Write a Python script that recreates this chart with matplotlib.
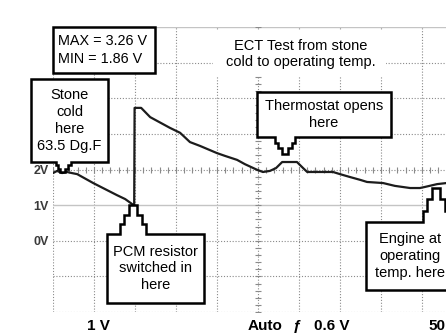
import matplotlib
matplotlib.use("Agg")
import matplotlib.pyplot as plt
from matplotlib.patches import Polygon, Rectangle
import numpy as np

# ECT sensor trace: time in screen divisions, signal in volts (1 V/div)
time_div = [0.00, 0.10, 0.22, 0.34, 0.46, 0.59, 0.98, 1.27, 1.56, 1.76,
            1.93, 1.98, 1.99, 2.15, 2.37, 2.85, 3.10, 3.34, 3.59, 4.00,
            4.20, 4.49, 4.68, 4.98, 5.12, 5.29, 5.44, 5.59, 5.78, 5.95,
            6.10, 6.20, 6.51, 6.83, 7.00, 7.24, 7.49, 7.66, 8.05, 8.34,
            8.71, 8.95, 9.07, 9.37, 9.60]
ect_volts = [1.90, 1.96, 1.90, 1.93, 1.90, 1.87, 1.62, 1.45, 1.28, 1.17,
             1.03, 0.95, 3.73, 3.73, 3.47, 3.17, 3.03, 2.77, 2.66, 2.46,
             2.38, 2.27, 2.15, 1.99, 1.93, 1.96, 2.04, 2.21, 2.21, 2.21,
             2.04, 1.93, 1.93, 1.93, 1.87, 1.79, 1.71, 1.65, 1.62, 1.54,
             1.48, 1.48, 1.51, 1.59, 1.62]

volt_ticks = [2, 1, 0]
volt_tick_labels = ["2V", "1V", "0V"]
readout_text = "MAX = 3.26 V\nMIN = 1.86 V"
title_text = "ECT Test from stone\ncold to operating temp."
stone_text = "Stone\ncold\nhere\n63.5 Dg.F"
pcm_text = "PCM resistor\nswitched in\nhere"
thermo_text = "Thermostat opens\nhere"
engine_text = "Engine at\noperating\ntemp. here"
status_labels = ["1 V", "Auto", "ƒ", "0.6 V", "50"]

# indices of trace samples the callouts point at
stone_idx, pcm_idx, thermo_idx, engine_idx = 2, 11, 27, 43

W, H = 446, 336
fig = plt.figure(figsize=(W / 100, H / 100), dpi=100)
fig.patch.set_facecolor("white")

# scope graticule: 10 x 8 divisions
ax = fig.add_axes([53 / W, 24 / H, 410 / W, 285 / H])
ax.set_xlim(0, 10)
ax.set_ylim(-2, 6)
for s in ax.spines.values():
    s.set_visible(False)
grid_col = "#8a8a8a"
dot = dict(color=grid_col, lw=0.8, ls=(0, (1, 1.6)), zorder=1)
for x in range(0, 11):
    ax.axvline(x, **dot)
for y in range(-2, 7):
    if y in (1, 6):
        ax.axhline(y, color="#c4c4c4", lw=1.0, zorder=1)
    else:
        ax.axhline(y, **dot)
minor_x = np.arange(0, 10.01, 0.2)
ax.plot(minor_x, np.full_like(minor_x, 2.0), ls="none", marker="|",
        ms=4.5, mew=0.8, color=grid_col, zorder=1)
minor_y = np.arange(-2, 6.01, 0.2)
ax.plot(np.full_like(minor_y, 5.0), minor_y, ls="none", marker="_",
        ms=4.5, mew=0.8, color=grid_col, zorder=1)

ax.plot(time_div, ect_volts, color="#1c1c1c", lw=1.6, zorder=3,
        solid_joinstyle="round", solid_capstyle="round")

ax.set_xticks([])
ax.set_yticks(volt_ticks, volt_tick_labels)
ax.tick_params(axis="y", length=0, pad=3, labelsize=9, labelcolor="#3a3a3a")
for lbl in ax.get_yticklabels():
    lbl.set_fontweight("bold")
    lbl.set_family("Liberation Sans")

# overlay in pixel units (y down) for the annotation boxes
ov = fig.add_axes([0, 0, 1, 1], zorder=5)
ov.set_xlim(0, W)
ov.set_ylim(H, 0)
ov.axis("off")
ov.patch.set_alpha(0)


def to_px(i, dx=0.0, dy=0.0):
    px, py = ax.transData.transform((time_div[i], ect_volts[i]))
    return px + dx, H - py + dy


def stairs(a, b, n=3):
    """Stepped edge from a to b (a excluded, b included)."""
    pts = []
    x0, y0 = a
    sx, sy = (b[0] - x0) / n, (b[1] - y0) / n
    for k in range(n):
        pts.append((x0 + k * sx, y0 + (k + 1) * sy))
        pts.append((x0 + (k + 1) * sx, y0 + (k + 1) * sy))
    return pts


FONT = ["Liberation Sans", "DejaVu Sans"]


def callout(box, side, base, tip, text, tx=None, fs=10.5):
    x0, y0, x1, y1 = box
    b0, b1 = base
    if side == "bottom":
        pts = ([(x0, y0), (x1, y0), (x1, y1), (b1, y1)]
               + stairs((b1, y1), tip)
               + stairs((b0, y1), tip)[::-1][1:]
               + [(b0, y1), (x0, y1)])
    else:
        pts = ([(x0, y0), (b0, y0)]
               + stairs((b0, y0), tip)
               + stairs((b1, y0), tip)[::-1][1:]
               + [(b1, y0), (x1, y0), (x1, y1), (x0, y1)])
    ov.add_patch(Polygon(pts, closed=True, fc="white", ec="black", lw=1.8,
                         joinstyle="miter", zorder=4))
    cx = (x0 + x1) / 2 if tx is None else tx
    ov.text(cx, (y0 + y1) / 2, text, ha="center", va="center", fontsize=fs,
            linespacing=1.25, family=FONT, zorder=5)


# readout box
ov.add_patch(Rectangle((53, 27), 102, 46, fc="white", ec="black", lw=1.8, zorder=4))
ov.text(58, 50, readout_text, ha="left", va="center", fontsize=10.4,
        linespacing=1.3, family=FONT, zorder=5)

# title block on white
ov.add_patch(Rectangle((213, 30), 173, 46, fc="white", ec="none", zorder=3))
ov.text(301, 54, title_text, ha="center", va="center", fontsize=10.5,
        linespacing=1.25, family=FONT, zorder=5)

callout((31, 79, 108, 162), "bottom", (56, 71), to_px(stone_idx, 0, -1), stone_text)
callout((107, 234, 204, 303), "top", (120, 146), to_px(pcm_idx, -1, -2), pcm_text)
callout((257, 92, 391, 137), "bottom", (275, 295), to_px(thermo_idx, 3, -8), thermo_text)
callout((366, 222, 454, 290), "top", (423, 449), to_px(engine_idx, -1, 4), engine_text, tx=410)

# scope status line
for x, s in zip([87, 248, 293, 314, 428], status_labels):
    ov.text(x, 319, s, ha="left", va="top", fontsize=11, fontweight="bold",
            family=FONT, zorder=5)

fig.savefig("out.png", dpi=100, facecolor="white")
